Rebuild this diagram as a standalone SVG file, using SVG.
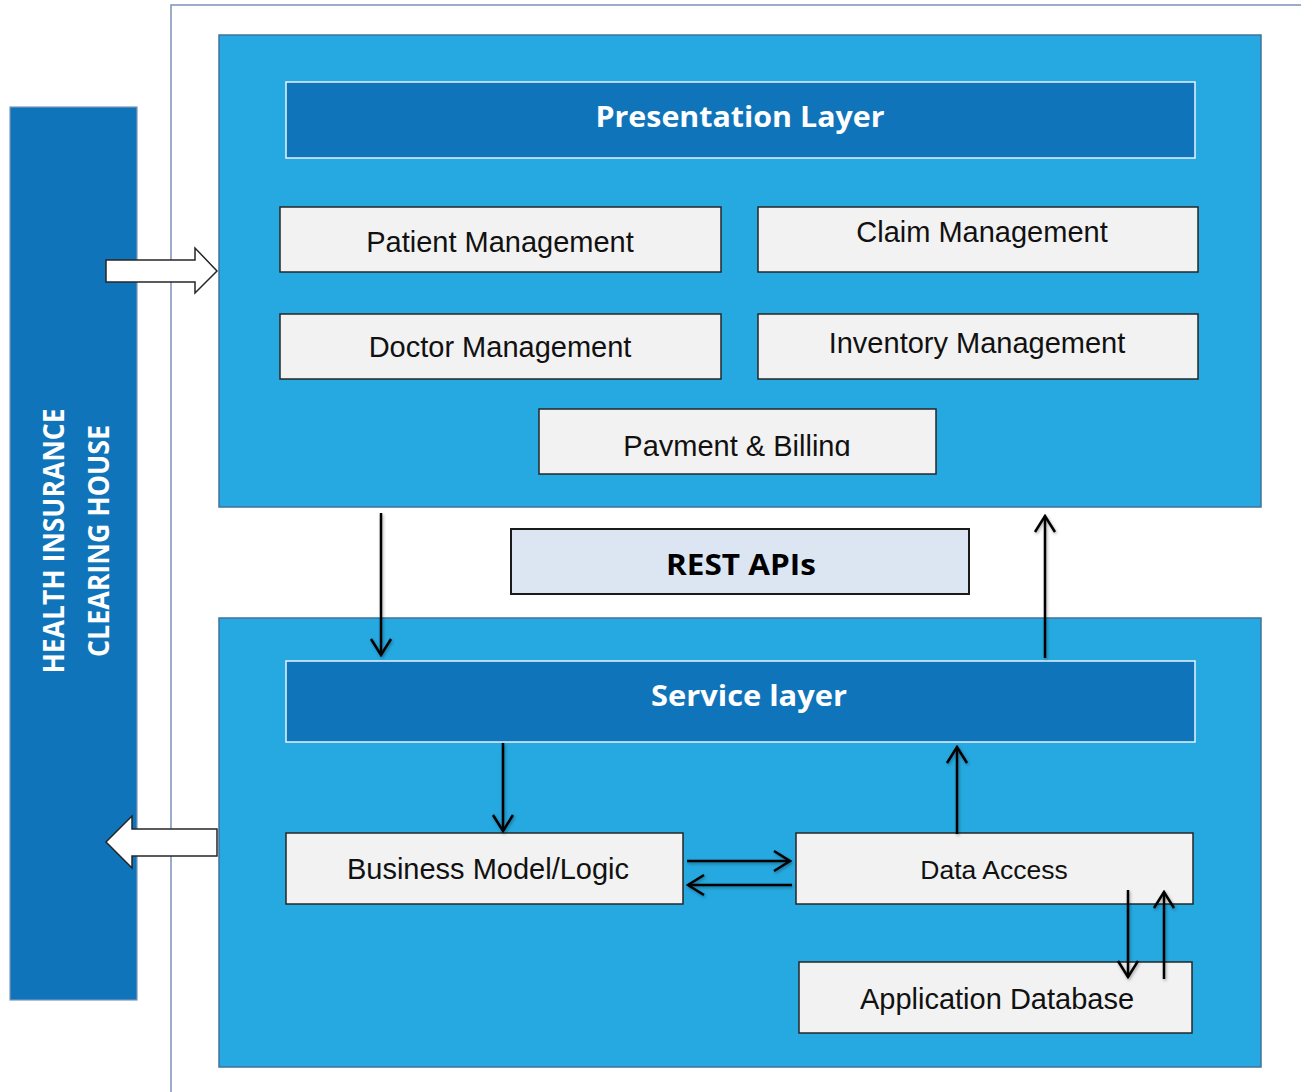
<svg xmlns="http://www.w3.org/2000/svg" width="1301" height="1092" viewBox="0 0 1301 1092">
<style>
.frame{fill:none;stroke:#7b92b6;stroke-width:1.5}
.cont{fill:#25a9e0;stroke:#41719c;stroke-width:1.5}
.hdr{fill:#1074bb;stroke:#e6f2fb;stroke-width:1.5}
.box{fill:#f2f2f2;stroke:#262626;stroke-width:1.5}
.rest{fill:#dce6f2;stroke:#1a1a1a;stroke-width:2}
.lbl{font-family:"Liberation Sans",Arial,sans-serif;font-size:29px;fill:#111;text-anchor:middle}
.hd{font-family:"Open Sans","Liberation Sans",sans-serif;font-weight:bold;font-size:28px;fill:#fff;text-anchor:middle}
.blk{fill:#fff;stroke:#262626;stroke-width:1.5;stroke-linejoin:miter}
.conn line{stroke:#000;stroke-width:2.5;fill:none}
</style>
<defs>
<marker id="ah" viewBox="0 0 20 24" refX="18" refY="12" markerWidth="20" markerHeight="24" markerUnits="userSpaceOnUse" orient="auto">
<path d="M2,2 L18,12 L2,22" fill="none" stroke="#000" stroke-width="2.5"/>
</marker>
<filter id="sh" x="-20%" y="-20%" width="140%" height="140%">
<feDropShadow dx="1" dy="1.5" stdDeviation="1.5" flood-color="#000" flood-opacity="0.35"/>
</filter>
<clipPath id="pbclip"><rect x="539" y="409" width="398" height="47"/></clipPath>
</defs>
<rect width="1301" height="1092" fill="#fff"/>
<path class="frame" d="M171,1092 V5 H1301"/>

<g id="clearing-house">
<rect x="10" y="107" width="127" height="893" fill="#1074bb" stroke="#7f96b8" stroke-width="1.2"/>
<text class="hd" transform="translate(64,541) rotate(-90)" textLength="265" lengthAdjust="spacingAndGlyphs">HEALTH INSURANCE</text>
<text class="hd" transform="translate(109,541) rotate(-90)" textLength="232" lengthAdjust="spacingAndGlyphs">CLEARING HOUSE</text>
</g>

<g id="presentation-container">
<rect class="cont" x="219" y="35" width="1042" height="472"/>
</g>
<g id="presentation-layer">
<rect class="hdr" x="286" y="82" width="909" height="76"/>
<text class="hd" x="740" y="127" textLength="289" lengthAdjust="spacingAndGlyphs">Presentation Layer</text>
</g>
<g id="patient-management">
<rect class="box" x="280" y="207" width="441" height="65"/>
<text class="lbl" x="500" y="252">Patient Management</text>
</g>
<g id="claim-management">
<rect class="box" x="758" y="207" width="440" height="65"/>
<text class="lbl" x="982" y="242">Claim Management</text>
</g>
<g id="doctor-management">
<rect class="box" x="280" y="314" width="441" height="65"/>
<text class="lbl" x="500" y="357">Doctor Management</text>
</g>
<g id="inventory-management">
<rect class="box" x="758" y="314" width="440" height="65"/>
<text class="lbl" x="977" y="353">Inventory Management</text>
</g>
<g id="payment-billing">
<rect class="box" x="539" y="409" width="397" height="65"/>
<text class="lbl" x="737" y="456" clip-path="url(#pbclip)">Payment &amp; Billing</text>
</g>

<g id="rest-apis">
<rect class="rest" x="511" y="529" width="458" height="65"/>
<text class="hd" x="741" y="575" fill="#000" style="fill:#000" textLength="150" lengthAdjust="spacingAndGlyphs">REST APIs</text>
</g>

<g id="service-container">
<rect class="cont" x="219" y="618" width="1042" height="449"/>
</g>
<g id="service-layer">
<rect class="hdr" x="286" y="661" width="909" height="81"/>
<text class="hd" x="749" y="706" textLength="196" lengthAdjust="spacingAndGlyphs">Service layer</text>
</g>
<g id="business-logic">
<rect class="box" x="286" y="833" width="397" height="71"/>
<text class="lbl" x="488" y="879">Business Model/Logic</text>
</g>
<g id="data-access">
<rect class="box" x="796" y="833" width="397" height="71"/>
<text class="lbl" x="994" y="879" style="font-size:26.5px">Data Access</text>
</g>
<g id="application-database">
<rect class="box" x="799" y="962" width="393" height="71"/>
<text class="lbl" x="997" y="1009">Application Database</text>
</g>

<g id="connectors">
<path class="blk" d="M106,260 H195 V248 L217,271 L195,293 V282 H106 Z"/>
<path class="blk" d="M217,829 H132 V816 L106,842 L132,868 V856 H217 Z"/>
<g class="conn" filter="url(#sh)">
<line x1="381" y1="513" x2="381" y2="655" marker-end="url(#ah)"/>
<line x1="1045" y1="658" x2="1045" y2="516" marker-end="url(#ah)"/>
<line x1="503" y1="743" x2="503" y2="831" marker-end="url(#ah)"/>
<line x1="957" y1="834" x2="957" y2="747" marker-end="url(#ah)"/>
<line x1="687" y1="861" x2="790" y2="861" marker-end="url(#ah)"/>
<line x1="792" y1="885" x2="688" y2="885" marker-end="url(#ah)"/>
<line x1="1128" y1="890" x2="1128" y2="977" marker-end="url(#ah)"/>
<line x1="1164" y1="979" x2="1164" y2="892" marker-end="url(#ah)"/>
</g>
</g>
</svg>
